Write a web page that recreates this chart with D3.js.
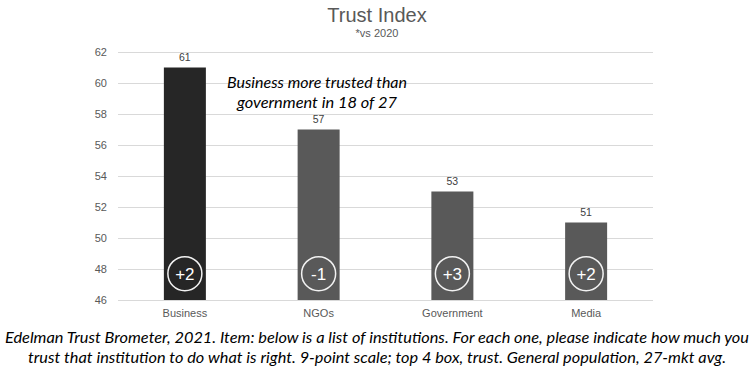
<!DOCTYPE html>
<html>
<head>
<meta charset="utf-8">
<script src="https://cdn.jsdelivr.net/npm/d3@7"></script>
<style>
  body { margin: 0; background: #fff; }
  svg text { font-family: "Liberation Sans", Arial, sans-serif; }
  .note { font-family: Lato, "Open Sans", sans-serif; font-style: italic; }
</style>
</head>
<body>
<div id="chart"></div>
<script>
// chart data
const categories = ['Business', 'NGOs', 'Government', 'Media'];
const trustValues = [61, 57, 53, 51];
const changeVs2020 = ['+2', '-1', '+3', '+2'];
const barColors = ['#262626', '#595959', '#595959', '#595959'];
const yTicks = [46, 48, 50, 52, 54, 56, 58, 60, 62];

const width = 755;
const height = 375;
const margin = { top: 52, right: 102, bottom: 75, left: 118 };

const svg = d3.select('#chart')
  .append('svg')
  .attr('width', width)
  .attr('height', height);

const x = d3.scaleBand()
  .domain(categories)
  .range([margin.left, width - margin.right])
  .paddingInner(0.686)
  .paddingOuter(0.343);

const y = d3.scaleLinear()
  .domain([46, 62])
  .range([height - margin.bottom, margin.top]);

// title
svg.append('text')
  .attr('x', 377).attr('y', 22)
  .attr('text-anchor', 'middle')
  .attr('font-size', 20)
  .attr('fill', '#595959')
  .text('Trust Index');

svg.append('text')
  .attr('x', 377).attr('y', 37)
  .attr('text-anchor', 'middle')
  .attr('font-size', 11)
  .attr('fill', '#595959')
  .text('*vs 2020');

// gridlines + y axis
const yAxis = d3.axisLeft(y)
  .tickValues(yTicks)
  .tickSize(-(width - margin.left - margin.right))
  .tickPadding(11);

const gy = svg.append('g')
  .attr('transform', `translate(${margin.left},0)`)
  .call(yAxis);
gy.select('.domain').remove();
gy.selectAll('.tick line').attr('stroke', '#d9d9d9');
gy.selectAll('.tick text')
  .attr('fill', '#595959')
  .attr('font-size', 11);

// bars
svg.selectAll('rect.bar')
  .data(categories)
  .join('rect')
  .attr('class', 'bar')
  .attr('x', d => x(d))
  .attr('width', x.bandwidth())
  .attr('y', (d, i) => y(trustValues[i]))
  .attr('height', (d, i) => y(46) - y(trustValues[i]))
  .attr('fill', (d, i) => barColors[i]);

// value labels
svg.selectAll('text.val')
  .data(categories)
  .join('text')
  .attr('class', 'val')
  .attr('x', d => x(d) + x.bandwidth() / 2)
  .attr('y', (d, i) => y(trustValues[i]) - 7)
  .attr('text-anchor', 'middle')
  .attr('font-size', 10.5)
  .attr('fill', '#404040')
  .text((d, i) => trustValues[i]);

// change badges
const badge = svg.selectAll('g.badge')
  .data(categories)
  .join('g')
  .attr('class', 'badge')
  .attr('transform', d => `translate(${x(d) + x.bandwidth() / 2},${y(47.7)})`);

badge.append('circle')
  .attr('r', 17)
  .attr('fill', 'none')
  .attr('stroke', '#f2f2f2')
  .attr('stroke-width', 1.5);

badge.append('text')
  .attr('text-anchor', 'middle')
  .attr('dy', '0.36em')
  .attr('font-size', 17)
  .attr('fill', '#fff')
  .text((d, i) => changeVs2020[i]);

// category labels
const xAxis = d3.axisBottom(x).tickSize(0).tickPadding(9);
const gx = svg.append('g')
  .attr('transform', `translate(0,${y(46)})`)
  .call(xAxis);
gx.select('.domain').remove();
gx.selectAll('.tick text')
  .attr('fill', '#595959')
  .attr('font-size', 11);

// annotation
const noteLines = ['Business more trusted than', 'government in 18 of 27'];
const noteWidths = [180, 160];
svg.selectAll('text.anno')
  .data(noteLines)
  .join('text')
  .attr('class', 'anno note')
  .attr('x', 317)
  .attr('y', (d, i) => 88 + i * 20)
  .attr('text-anchor', 'middle')
  .attr('font-size', 15)
  .attr('font-weight', 'normal')
  .attr('textLength', (d, i) => noteWidths[i])
  .attr('lengthAdjust', 'spacingAndGlyphs')
  .attr('fill', '#000')
  .text(d => d);

// source footnote
const sourceLines = [
  'Edelman Trust Brometer, 2021. Item: below is a list of institutions. For each one, please indicate how much you',
  'trust that institution to do what is right. 9-point scale; top 4 box, trust. General population, 27-mkt avg.'
];
const sourceWidths = [744, 698];
svg.selectAll('text.src')
  .data(sourceLines)
  .join('text')
  .attr('class', 'src note')
  .attr('x', 377)
  .attr('y', (d, i) => 343 + i * 20)
  .attr('text-anchor', 'middle')
  .attr('font-size', 15)
  .attr('textLength', (d, i) => sourceWidths[i])
  .attr('lengthAdjust', 'spacingAndGlyphs')
  .attr('fill', '#000')
  .text(d => d);
</script>
</body>
</html>
